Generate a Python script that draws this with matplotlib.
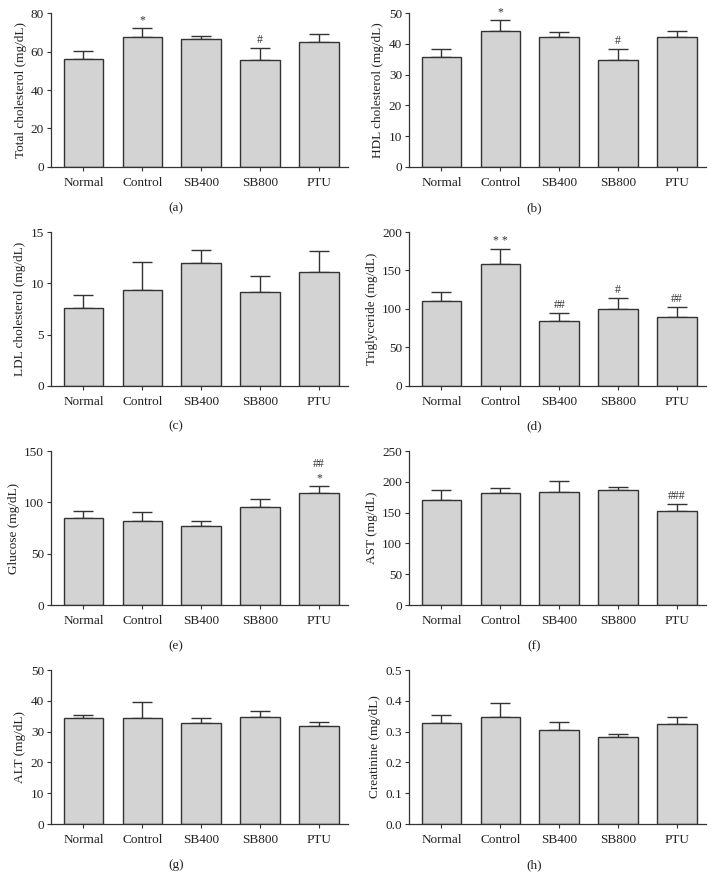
import matplotlib
matplotlib.use("Agg")
import matplotlib.pyplot as plt
import matplotlib.ticker as mticker
import numpy as np

plt.rcParams['font.family'] = ['Liberation Serif', 'DejaVu Serif']

GROUPS = ['Normal', 'Control', 'SB400', 'SB800', 'PTU']

# mean and upper error (SEM) per panel
tc_mean = [56.0, 67.3, 66.6, 55.7, 65.2]
tc_err = [4.5, 4.9, 1.4, 6.0, 3.8]
hdl_mean = [35.7, 44.1, 42.1, 34.8, 42.2]
hdl_err = [2.6, 3.5, 1.7, 3.6, 1.9]
ldl_mean = [7.63, 9.38, 11.98, 9.16, 11.1]
ldl_err = [1.2, 2.67, 1.3, 1.59, 2.05]
tg_mean = [110.0, 158.3, 84.3, 100.0, 90.0]
tg_err = [12.6, 19.1, 10.9, 13.9, 13.0]
glu_mean = [84.8, 82.3, 77.1, 95.2, 108.7]
glu_err = [6.8, 8.7, 5.2, 8.0, 7.1]
ast_mean = [170.3, 181.6, 183.7, 187.5, 153.0]
ast_err = [16.7, 8.6, 17.8, 4.8, 11.3]
alt_mean = [34.5, 34.3, 32.9, 34.8, 31.9]
alt_err = [1.0, 5.4, 1.4, 1.9, 1.2]
cre_mean = [0.3275, 0.347, 0.3048, 0.282, 0.3243]
cre_err = [0.026, 0.046, 0.026, 0.011, 0.024]

tc_marks = ['', '*', '', '#', '']
hdl_marks = ['', '*', '', '#', '']
tg_marks = ['', '* *', '##', '#', '##']
glu_marks = ['', '', '', '', '##\n*']
ast_marks = ['', '', '', '', '###']
none_marks = ['', '', '', '', '']

PANELS = [
    ('Total cholesterol (mg/dL)', tc_mean, tc_err, tc_marks, 80, 20, '(a)'),
    ('HDL cholesterol (mg/dL)', hdl_mean, hdl_err, hdl_marks, 50, 10, '(b)'),
    ('LDL cholesterol (mg/dL)', ldl_mean, ldl_err, none_marks, 15, 5, '(c)'),
    ('Triglyceride (mg/dL)', tg_mean, tg_err, tg_marks, 200, 50, '(d)'),
    ('Glucose (mg/dL)', glu_mean, glu_err, glu_marks, 150, 50, '(e)'),
    ('AST (mg/dL)', ast_mean, ast_err, ast_marks, 250, 50, '(f)'),
    ('ALT (mg/dL)', alt_mean, alt_err, none_marks, 50, 10, '(g)'),
    ('Creatinine (mg/dL)', cre_mean, cre_err, none_marks, 0.5, 0.1, '(h)'),
]

AX_COLOR = '#333333'
TXT_COLOR = '#222222'
BAR_COLOR = '#d3d3d3'
FS = 9.5


def draw_panel(ax, ylabel, mean, err, marks, ymax, step, tag):
    x = np.arange(len(GROUPS))
    ax.bar(x, mean, width=0.67, color=BAR_COLOR, edgecolor=AX_COLOR,
           linewidth=1.0, zorder=2)
    ax.errorbar(x, mean, yerr=[np.zeros(len(err)), err], fmt='none',
                ecolor=AX_COLOR, elinewidth=1.0, capsize=7, capthick=1.0,
                zorder=1)
    for xi, m, e, s in zip(x, mean, err, marks):
        if s:
            ax.annotate(s, (xi, m + e), xytext=(0, 1.5), textcoords='offset points',
                        ha='center', va='bottom', fontsize=8.5, color=AX_COLOR,
                        linespacing=1.2)
    ax.set_xlim(-0.55, 4.5)
    ax.set_ylim(0, ymax)
    ax.set_yticks(np.arange(0, ymax + step / 2, step))
    if step < 1:
        ax.yaxis.set_major_formatter(mticker.FormatStrFormatter('%.1f'))
    ax.set_xticks(x)
    ax.set_xticklabels(GROUPS, fontsize=FS)
    ax.tick_params(axis='y', labelsize=FS, length=3, width=0.8, colors=AX_COLOR,
                   pad=2)
    ax.tick_params(axis='x', length=3, width=0.8, colors=AX_COLOR, pad=4)
    for lab in ax.get_xticklabels() + ax.get_yticklabels():
        lab.set_color(TXT_COLOR)
    ax.set_ylabel(ylabel, fontsize=FS, color=TXT_COLOR, labelpad=3)
    for side in ('top', 'right'):
        ax.spines[side].set_visible(False)
    for side in ('left', 'bottom'):
        ax.spines[side].set_color(AX_COLOR)
        ax.spines[side].set_linewidth(0.9)
    ax.text(0.42, -0.265, tag, transform=ax.transAxes, ha='center', va='center',
            fontsize=FS, color=TXT_COLOR)


fig = plt.figure(figsize=(7.15, 8.92), dpi=100)
lefts = [0.0713, 0.572]
bottoms = [0.8128, 0.5673, 0.3217, 0.0762]
for i, p in enumerate(PANELS):
    row, col = divmod(i, 2)
    ax = fig.add_axes([lefts[col], bottoms[row], 0.416, 0.1726])
    draw_panel(ax, *p)

fig.savefig('out.png', dpi=100)
